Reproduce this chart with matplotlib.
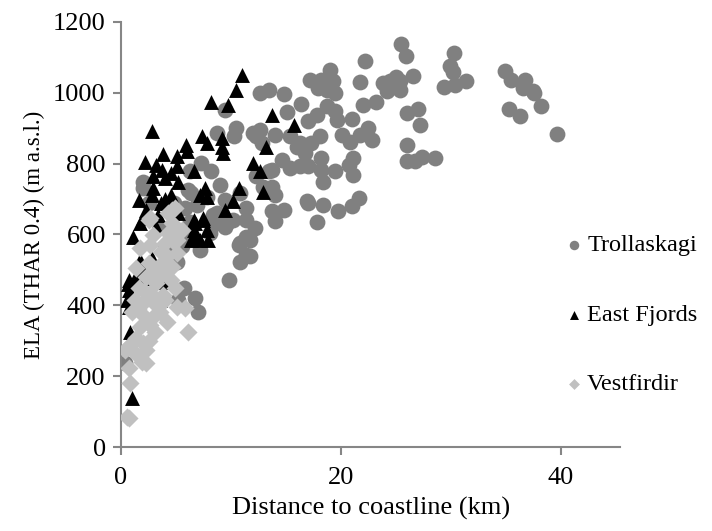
import matplotlib.pyplot as plt

plt.rcParams["font.family"] = ["Liberation Serif", "DejaVu Serif"]

# Trollaskagi (grey circles)
tro_x = [25.5, 25.9, 26.6, 25.4, 25.4, 30.3, 29.9, 30.2, 29.4, 30.4, 31.4, 34.9, 35.5, 36.7, 36.6,
         37.5, 37.6, 38.2, 35.3, 36.3, 39.7, 26.0, 27.0, 27.2, 26.0, 26.0, 26.7, 27.4, 28.6,
         22.2, 19.0, 17.2, 18.2, 19.3, 17.9, 18.7, 19.5, 21.7, 23.8, 24.5, 25.0, 25.2, 24.2,
         12.6, 13.5, 14.8, 16.4, 15.1, 17.0, 17.8, 18.7, 19.5, 19.6, 21.0, 22.0, 23.2,
         12.6, 14.0, 15.4, 16.3, 17.3, 18.1, 20.1, 20.8, 21.7, 22.5, 22.8,
         14.6, 15.4, 16.3, 17.0, 16.7, 18.2, 18.2, 18.4, 19.5, 20.7, 21.1, 21.1,
         17.0, 18.4, 19.7, 21.0, 21.6, 17.8,
         13.7, 12.3, 13.7, 14.0, 13.7, 14.8, 14.0, 12.2, 11.7, 11.7, 12.0,
         9.5, 10.5, 10.3, 8.7, 12.3, 12.8, 16.0, 13.5, 7.3, 8.2, 6.3, 2.0, 2.0, 9.0, 6.4, 7.8,
         10.8, 12.9, 9.5, 11.4, 5.8, 8.7, 10.2, 11.4, 16.9, 8.5, 9.5, 11.4, 10.7, 6.3, 6.1, 8.1, 5.4,
         6.9, 8.4, 9.0, 9.6, 10.8, 11.4, 10.8, 9.8, 7.2, 6.6, 5.5, 5.1, 5.7, 6.7, 7.0, 5.2, 0.4,
         6.1, 4.0, 3.5, 4.8, 2.5]
tro_y = [1136, 1103, 1048, 1032, 1008, 1112, 1074, 1057, 1016, 1023, 1034, 1060, 1035, 1037, 1013,
         1004, 999, 961, 955, 933, 884, 944, 954, 908, 853, 806, 806, 818, 815,
         1090, 1063, 1037, 1037, 1032, 1013, 1008, 999, 1030, 1027, 1032, 1043, 1023, 1004,
         999, 1007, 996, 969, 945, 921, 938, 961, 947, 924, 926, 966, 975,
         895, 881, 877, 858, 858, 877, 881, 862, 881, 900, 867,
         811, 787, 792, 792, 830, 815, 782, 749, 778, 797, 815, 768,
         690, 684, 665, 679, 704, 634,
         782, 764, 735, 712, 665, 669, 637, 618, 585, 538, 886,
         952, 900, 877, 886, 877, 858, 848, 778, 801, 778, 778, 749, 731, 740, 716, 707,
         716, 735, 698, 674, 674, 660, 641, 641, 693, 630, 622, 594, 571, 636, 604, 604, 566,
         684, 655, 636, 632, 575, 542, 523, 472, 556, 585, 566, 523, 448, 420, 380, 415, 237,
         726, 560, 620, 690, 690]

# East Fjords (black triangles)
ef_x = [11.0, 10.5, 8.2, 9.7, 13.7, 15.7, 2.8, 5.9, 7.4, 7.8, 9.2, 9.2, 9.3, 13.2, 6.0, 3.8,
        5.1, 2.2, 3.2, 5.1, 3.7, 4.5, 2.9, 4.0, 5.2, 6.6, 12.0, 12.6, 12.9, 10.7, 7.6, 7.2, 7.8,
        10.2, 9.5, 2.9, 2.8, 4.5, 1.6, 2.3, 5.2, 6.6, 7.5, 7.8, 6.6, 1.7, 3.2, 1.1, 6.6, 7.9,
        2.0, 3.4, 7.5, 6.7, 6.4, 7.2, 1.7, 2.8, 2.0, 0.7, 1.3, 2.2, 0.7, 0.5, 0.7, 0.8, 1.0,
        3.8, 3.5, 0.6, 4.0, 3.6]
ef_y = [1051, 1007, 975, 966, 938, 910, 891, 853, 877, 858, 872, 848, 830, 846, 834, 828,
        820, 803, 797, 792, 782, 773, 764, 759, 749, 778, 801, 778, 721, 731, 731, 712, 707,
        693, 669, 731, 712, 712, 698, 669, 660, 641, 641, 613, 613, 632, 622, 592, 589, 585,
        646, 655, 646, 632, 585, 585, 528, 533, 500, 472, 477, 477, 444, 415, 396, 326, 138,
        467, 415, 460, 700, 690]

# Vestfirdir (light grey diamonds)
vf_x = [4.9, 4.3, 2.6, 4.6, 5.5, 5.1, 4.0, 2.6, 2.9, 4.3, 1.7, 4.8, 5.1, 4.2, 3.5, 1.4, 4.6,
        2.3, 4.5, 3.2, 4.9, 1.6, 2.6, 3.8, 1.3, 2.0, 3.2, 4.0, 5.1, 5.8, 2.0, 2.9, 4.2, 6.1,
        1.7, 2.6, 3.1, 1.4, 0.8, 2.0, 2.3, 0.4, 1.3, 1.9, 2.3, 0.7, 0.8, 0.7, 0.5, 2.5,
        3.0, 2.5, 3.8, 1.0, 1.5, 3.5, 2.8, 1.2, 2.5, 4.6, 3.6, 2.1]
vf_y = [674, 660, 646, 632, 613, 585, 575, 571, 599, 604, 561, 580, 547, 538, 514, 505, 509,
        481, 472, 462, 448, 448, 434, 429, 415, 406, 401, 415, 396, 392, 373, 368, 354, 326,
        340, 345, 326, 307, 288, 293, 274, 274, 265, 241, 236, 222, 180, 81, 86, 640,
        500, 520, 490, 380, 390, 380, 420, 300, 300, 669, 550, 440]

fig = plt.figure(figsize=(7.12, 5.31), dpi=100)
ax = fig.add_axes([0.170, 0.158, 0.701, 0.801])

ax.scatter(tro_x, tro_y, s=130, marker="o", color="#808080", linewidths=0, label="Trollaskagi", zorder=2)
ax.scatter(ef_x, ef_y, s=115, marker="^", color="black", linewidths=0, label="East Fjords", zorder=3)
ax.scatter(vf_x, vf_y, s=85, marker="D", color="#c0c0c0", linewidths=0, label="Vestfirdir", zorder=4)

ax.set_xlim(0, 45.4)
ax.set_ylim(0, 1200)
ax.set_xticks([0, 20, 40])
ax.set_yticks(range(0, 1201, 200))

for side in ["top", "right"]:
    ax.spines[side].set_visible(False)
for side in ["left", "bottom"]:
    ax.spines[side].set_color("#868686")
    ax.spines[side].set_linewidth(1.5)
ax.tick_params(axis="both", direction="out", color="#868686", width=1.5, length=6,
               labelsize=19, labelcolor="black", pad=5)
ax.tick_params(axis="x", pad=8)

ax.set_xlabel("Distance to coastline (km)", fontsize=19, labelpad=6)
ax.set_ylabel("ELA (THAR 0.4) (m a.s.l.)", fontsize=16.5, labelpad=6)

fig.legend(loc="center left", bbox_to_anchor=(0.758, 0.407), frameon=False, fontsize=17.5,
           markerscale=0.6, handletextpad=0.05, labelspacing=1.95, handlelength=1.0)

fig.savefig("out.png", dpi=100)
